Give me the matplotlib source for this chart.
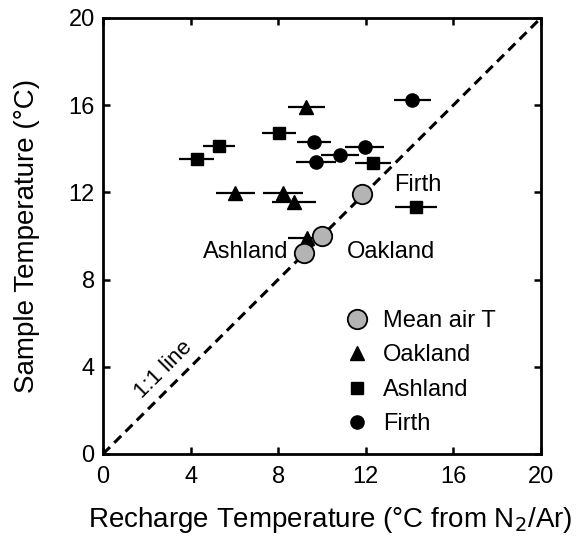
import matplotlib
matplotlib.use("Agg")
import matplotlib.pyplot as plt

plt.rcParams['font.family'] = ['Liberation Sans', 'DejaVu Sans']

# Data
oak_x = [9.29, 6.04, 8.22, 8.74, 9.32]
oak_y = [15.93, 11.96, 11.96, 11.57, 9.89]
oak_xerr = [0.84, 0.90, 0.90, 1.00, 0.85]

ash_x = [8.02, 5.31, 4.29, 12.33, 14.31]
ash_y = [14.74, 14.13, 13.53, 13.36, 11.34]
ash_xerr = [0.78, 0.74, 0.80, 0.84, 0.96]

fir_x = [14.13, 9.63, 11.95, 10.82, 9.73]
fir_y = [16.24, 14.33, 14.10, 13.72, 13.41]
fir_xerr = [0.84, 0.78, 0.88, 0.88, 0.90]

air_x = [11.84, 10.01, 9.20]
air_y = [11.91, 10.00, 9.20]
air_sites = ["Firth", "Oakland", "Ashland"]

ticks = [0, 4, 8, 12, 16, 20]

fig = plt.figure(figsize=(5.77, 5.37), dpi=100)
ax = fig.add_axes([0.1785, 0.1546, 0.759, 0.812])

ax.plot([0, 20], [0, 20], ls=(0, (3.2, 2.0)), color='black', lw=2.2, zorder=2)

eb = dict(fmt='none', ecolor='black', elinewidth=1.6, capsize=0, zorder=3)
ax.errorbar(oak_x, oak_y, xerr=oak_xerr, **eb)
ax.errorbar(ash_x, ash_y, xerr=ash_xerr, **eb)
ax.errorbar(fir_x, fir_y, xerr=fir_xerr, **eb)

ax.plot(oak_x, oak_y, '^', color='black', ms=10, ls='none', zorder=4, label='Oakland')
ax.plot(ash_x, ash_y, 's', color='black', ms=9, ls='none', zorder=4, label='Ashland')
ax.plot(fir_x, fir_y, 'o', color='black', ms=9.5, ls='none', zorder=4, label='Firth')
ax.plot(air_x, air_y, 'o', mfc='#b4b4b4', mec='black', mew=1.3, ms=14, ls='none',
        zorder=5, label='Mean air T')

ax.text(14.36, 12.34, air_sites[0], fontsize=17, ha='center', va='center')
ax.text(13.13, 9.28, air_sites[1], fontsize=17, ha='center', va='center')
ax.text(8.48, 9.28, air_sites[2], fontsize=17, ha='right', va='center')
ax.text(2.76, 3.85, "1:1 line", fontsize=16, ha='center', va='center', rotation=45)

handles, labels = ax.get_legend_handles_labels()
order = [3, 0, 1, 2]
ax.legend([handles[i] for i in order], [labels[i] for i in order],
          loc='lower left', bbox_to_anchor=(0.52, 0.01), frameon=False,
          fontsize=17, handlelength=1.0, handletextpad=0.6, labelspacing=0.53,
          borderaxespad=0.2)

ax.set_xlim(0, 20)
ax.set_ylim(0, 20)
ax.set_xticks(ticks)
ax.set_yticks(ticks)
ax.set_xticklabels([str(t) for t in ticks])
ax.set_yticklabels([str(t) for t in ticks])
ax.tick_params(direction='in', length=5, width=1.8, labelsize=17,
               top=True, right=True)
ax.tick_params(axis='x', pad=9)
ax.tick_params(axis='y', pad=6)
for s in ax.spines.values():
    s.set_linewidth(2.0)

ax.set_xlabel(r"Recharge Temperature (°C from N$_2$/Ar)", fontsize=20)
ax.set_ylabel("Sample Temperature (°C)", fontsize=20)
ax.xaxis.set_label_coords(0.52, -0.118)
ax.yaxis.set_label_coords(-0.144, 0.5)

fig.savefig("out.png", dpi=100)
